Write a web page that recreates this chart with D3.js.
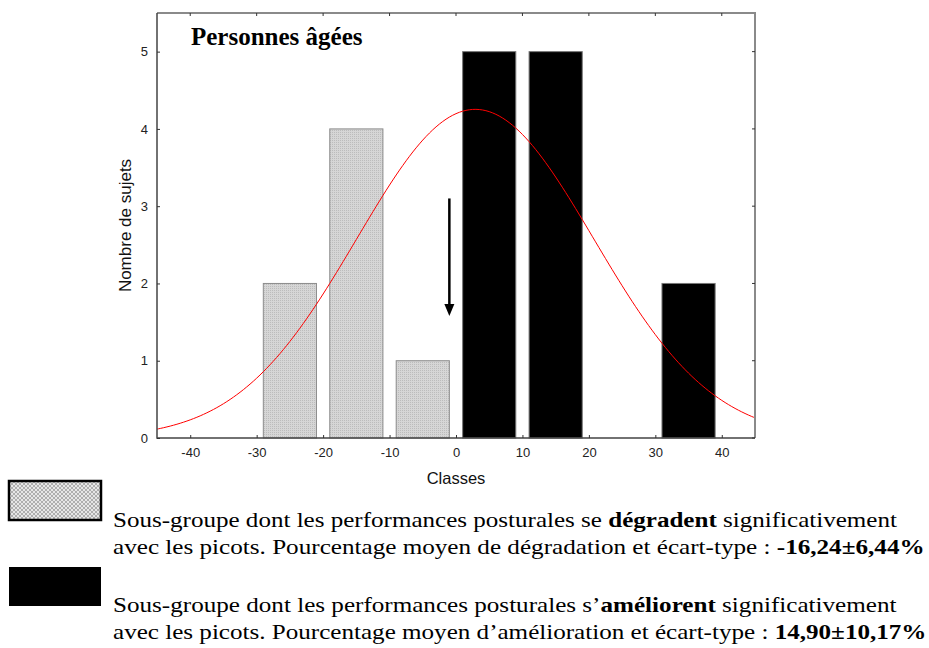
<!DOCTYPE html>
<html>
<head>
<meta charset="utf-8">
<script src="https://cdn.jsdelivr.net/npm/d3@7/dist/d3.min.js"></script>
<style>
  html, body { margin: 0; padding: 0; background: #fff; }
  svg { display: block; }
</style>
</head>
<body>
<svg id="chart" width="929" height="648"></svg>
<script>
// Histogram classes (bin centres, width 10) and number of subjects per class
const classCenters = [-25, -15, -5, 5, 15, 25, 35];
const counts       = [2, 4, 1, 5, 5, 0, 2];
// Sub-group per class: "deg" = performance worsens, "amel" = performance improves
const groups       = ["deg", "deg", "deg", "amel", "amel", "amel", "amel"];
const binWidth = 10;

const xTicks = [-40, -30, -20, -10, 0, 10, 20, 30, 40];
const yTicks = [0, 1, 2, 3, 4, 5];

// Arrow marking the split between the two sub-groups (x, from y, to y)
const arrowX = -1, arrowFrom = 3.1, arrowTo = 1.58;

const titleText = "Personnes âgées";
const xLabel = "Classes";
const yLabel = "Nombre de sujets";

const SANS = "'Liberation Sans', Arial, sans-serif";
const SERIF = "'Liberation Serif', 'Times New Roman', serif";

const svg = d3.select("#chart");
const margin = { left: 157, right: 174, top: 13, bottom: 210 };
const W = 929, H = 648;

const x = d3.scaleLinear().domain([-45, 45]).range([margin.left, W - margin.right]);
const y = d3.scaleLinear().domain([0, 5.5]).range([H - margin.bottom, margin.top]);

// Patterns
const defs = svg.append("defs");
const dots = defs.append("pattern").attr("id", "dots")
  .attr("patternUnits", "userSpaceOnUse").attr("width", 2).attr("height", 2);
dots.append("rect").attr("width", 2).attr("height", 2).attr("fill", "#d6d6d6");
dots.append("rect").attr("width", 1).attr("height", 1).attr("fill", "#bcbcbc");

const hatch = defs.append("pattern").attr("id", "hatch")
  .attr("patternUnits", "userSpaceOnUse").attr("width", 4).attr("height", 4);
hatch.append("rect").attr("width", 4).attr("height", 4).attr("fill", "#e6e6e6");
hatch.append("path").attr("d", "M0,0 L4,4 M4,0 L0,4")
  .attr("stroke", "#a0a0a0").attr("stroke-width", 0.8);

// Bars
const bars = classCenters.map((c, i) => ({ c, n: counts[i], g: groups[i] }));
svg.append("g").selectAll("rect").data(bars.filter(d => d.n > 0)).join("rect")
  .attr("x", d => x(d.c - 4))
  .attr("width", d => x(d.c + 4) - x(d.c - 4))
  .attr("y", d => y(d.n))
  .attr("height", d => y(0) - y(d.n))
  .attr("fill", d => d.g === "deg" ? "url(#dots)" : "#000")
  .attr("stroke", d => d.g === "deg" ? "#8c8c8c" : "#777")
  .attr("stroke-width", 1);

// Fitted normal curve (mean and sd from the histogram)
const N = d3.sum(counts);
const mean = d3.sum(classCenters.map((c, i) => c * counts[i])) / N;
const sd = Math.sqrt(d3.sum(classCenters.map((c, i) => counts[i] * (c - mean) ** 2)) / (N - 1));
const normal = v => N * binWidth * Math.exp(-0.5 * ((v - mean) / sd) ** 2) / (sd * Math.sqrt(2 * Math.PI));
const curvePts = d3.range(-45, 45.01, 0.5).map(v => [v, normal(v)]);
svg.append("path").datum(curvePts)
  .attr("d", d3.line().x(d => x(d[0])).y(d => y(d[1])).curve(d3.curveBasis))
  .attr("fill", "none").attr("stroke", "#ff0000").attr("stroke-width", 1);

// Frame
const x0 = x(-45), x1 = x(45), y0 = y(0), y1 = y(5.5);
svg.append("path").attr("d", `M${x0},${y1} H${x1} V${y0}`)
  .attr("fill", "none").attr("stroke", "#8a8a8a").attr("stroke-width", 2);
svg.append("path").attr("d", `M${x0},${y1} V${y0} H${x1}`)
  .attr("fill", "none").attr("stroke", "#444").attr("stroke-width", 1.5);

// Axes (ticks drawn inside the frame)
const fmt = d => String(d); // plain hyphen-minus, integer labels
const xAxis = svg.append("g").attr("transform", `translate(0,${y0})`)
  .call(d3.axisBottom(x).tickValues(xTicks).tickFormat(fmt).tickSize(-3).tickPadding(10));
const yAxis = svg.append("g").attr("transform", `translate(${x0},0)`)
  .call(d3.axisLeft(y).tickValues(yTicks).tickFormat(fmt).tickSize(-3).tickPadding(9));
[xAxis, yAxis].forEach(a => {
  a.attr("font-family", null).attr("font-size", null);
  a.select(".domain").remove();
  a.selectAll("line").attr("stroke", "#333");
  a.selectAll("text").attr("font-family", SANS).attr("font-size", 13).attr("fill", "#222");
});
// top and right ticks
svg.append("g").selectAll("line").data(xTicks).join("line")
  .attr("x1", d => x(d)).attr("x2", d => x(d)).attr("y1", y1).attr("y2", y1 + 3)
  .attr("stroke", "#333");
svg.append("g").selectAll("line").data(yTicks).join("line")
  .attr("y1", d => y(d)).attr("y2", d => y(d)).attr("x1", x1).attr("x2", x1 - 3)
  .attr("stroke", "#333");

// Axis titles
svg.append("text").attr("x", x(0)).attr("y", 484).attr("text-anchor", "middle")
  .attr("font-family", SANS).attr("font-size", 16.5).attr("fill", "#111")
  .text(xLabel);
svg.append("text").attr("transform", `translate(131,${y(2.75)}) rotate(-90)`)
  .attr("text-anchor", "middle")
  .attr("font-family", SANS).attr("font-size", 17).attr("fill", "#111")
  .text(yLabel);

// Title
svg.append("text").attr("x", 191).attr("y", 45)
  .attr("font-family", SERIF)
  .attr("font-weight", "bold").attr("font-size", 25).attr("fill", "#000")
  .text(titleText);

// Arrow
svg.append("line").attr("x1", x(arrowX)).attr("x2", x(arrowX))
  .attr("y1", y(arrowFrom)).attr("y2", y(arrowTo) - 10)
  .attr("stroke", "#000").attr("stroke-width", 2.5);
svg.append("path")
  .attr("d", `M${x(arrowX) - 5},${y(arrowTo) - 12} L${x(arrowX) + 5},${y(arrowTo) - 12} L${x(arrowX)},${y(arrowTo)} Z`)
  .attr("fill", "#000");

// Legend
const legend = [
  { fill: "url(#hatch)", stroke: "#000", sw: 2.5, yBox: 481,
    lines: [
      [["Sous-groupe dont les performances posturales se ", false], ["dégradent", true], [" significativement", false]],
      [["avec les picots. Pourcentage moyen de dégradation et écart-type : ", false], ["-16,24±6,44%", true]]
    ] },
  { fill: "#000", stroke: "#000", sw: 0, yBox: 567,
    lines: [
      [["Sous-groupe dont les performances posturales s’", false], ["améliorent", true], [" significativement", false]],
      [["avec les picots. Pourcentage moyen d’amélioration et écart-type : ", false], ["14,90±10,17%", true]]
    ] }
];
const baselines = [[527, 554], [612, 639]];
const lineEnds = [[897, 925], [897, 927]];
legend.forEach((L, k) => {
  svg.append("rect").attr("x", 9).attr("y", L.yBox).attr("width", 92).attr("height", 39)
    .attr("fill", L.fill).attr("stroke", L.stroke).attr("stroke-width", L.sw);
  L.lines.forEach((parts, j) => {
    const t = svg.append("text").attr("x", 0).attr("y", 0)
      .attr("font-family", SERIF)
      .attr("font-size", 21).attr("fill", "#000");
    parts.forEach(([s, b]) => t.append("tspan").attr("font-weight", b ? "bold" : "normal").text(s));
    // wide-set serif text: stretch horizontally so the line spans its full width
    const w = t.node().getComputedTextLength();
    const sx = (lineEnds[k][j] - 113) / w;
    t.attr("transform", `translate(113,${baselines[k][j]}) scale(${sx},1)`);
  });
});
</script>
</body>
</html>
